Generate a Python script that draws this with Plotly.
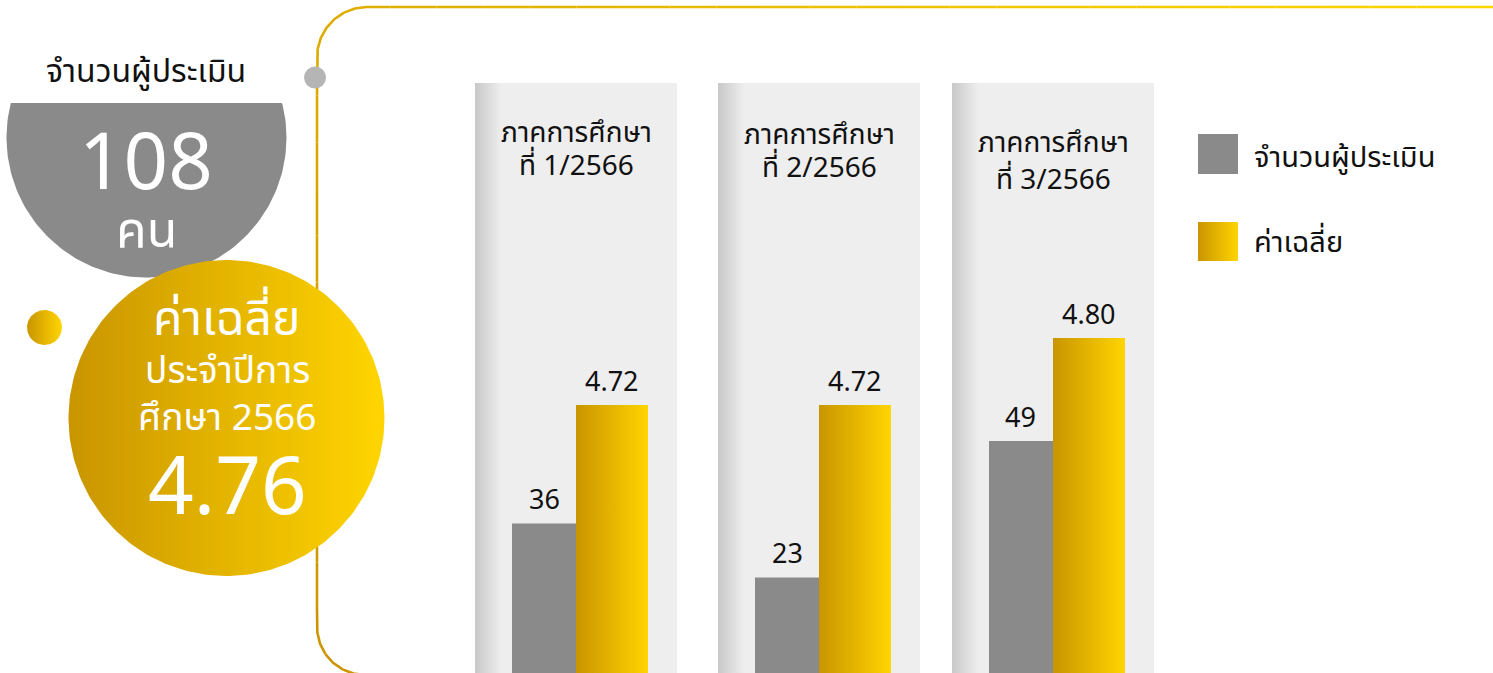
import numpy as np
import plotly.graph_objects as go

W, H = 1493, 673

# ---------------- data ----------------
semesters = ["ภาคการศึกษา<br>ที่ 1/2566", "ภาคการศึกษา<br>ที่ 2/2566", "ภาคการศึกษา<br>ที่ 3/2566"]
evaluators = [36, 23, 49]
averages = [4.72, 4.72, 4.80]
series_names = ["จำนวนผู้ประเมิน", "ค่าเฉลี่ย"]
total_evaluators = 108
total_unit = "คน"
year_average = 4.76
year_average_label = ["ค่าเฉลี่ย", "ประจำปีการ", "ศึกษา 2566"]

# ---------------- style ----------------
FONT = "Noto Sans Thai, Noto Sans, DejaVu Sans, sans-serif"
GRAY = "#8A8A8A"
GOLD_SCALE = [[0, "#C99500"], [1, "#FFD500"]]
PANEL_SCALE = [[0, "#C8C8C8"], [0.13, "#EEEEEE"], [1, "#EEEEEE"]]

panel_left = [475, 718, 952]
panel_w = 202
panel_top = 83
gray_axis_max = [142, 142, 124.6]
gold_axis_range = [4.40, 5.1045]
px_unit = 68.0
x_range = [-69 / px_unit, (panel_w - 69) / px_unit]
gray_w = 64 / px_unit
gold_w = 72 / px_unit
title_line_y = [(133, 166), (135, 168), (143, 180)]

fig = go.Figure()


def add_poly(x, y, scale=None, color=None, xa="x", ya="y"):
    kw = dict(x=list(x), y=list(y), mode="lines", fill="toself", line=dict(width=0),
              hoverinfo="skip", showlegend=False, xaxis=xa, yaxis=ya)
    if scale is not None:
        kw["fillgradient"] = dict(type="horizontal", colorscale=scale)
        kw["fillcolor"] = scale[-1][1]
    else:
        kw["fillcolor"] = color
    fig.add_trace(go.Scatter(**kw))


def circle(cx, cy, r, ymin=None, n=240):
    t = np.linspace(0, 2 * np.pi, n)
    x = cx + r * np.cos(t)
    y = cy + r * np.sin(t)
    if ymin is not None:
        y = np.maximum(y, ymin)
    return x, y


def rect(x0, y0, x1, y1):
    return [x0, x1, x1, x0, x0], [y0, y0, y1, y1, y0]


# ---------------- decorations on a pixel canvas ----------------
# gold outline (gradient along its path)
pts = []
x0, ytop, ybot, R1, R2 = 317, 7, 675, 48, 50
for a in np.linspace(np.pi / 2, np.pi, 20):
    pts.append((x0 + R1 + R1 * np.cos(a), ybot - R1 + R1 * np.sin(a)))
for a in np.linspace(np.pi, 1.5 * np.pi, 20):
    pts.append((x0 + R2 + R2 * np.cos(a), ytop + R2 + R2 * np.sin(a)))
pts.append((W + 5, ytop))
pts = np.array(pts)
seg = np.hypot(np.diff(pts[:, 0]), np.diff(pts[:, 1]))
cum = np.concatenate([[0], np.cumsum(seg)])
L = cum[-1]
s = np.linspace(0, L, 160)
px = np.interp(s, cum, pts[:, 0])
py = np.interp(s, cum, pts[:, 1])
c0 = np.array([0xCC, 0x95, 0x00])
c1 = np.array([0xFF, 0xD8, 0x00])
step = 4
for i in range(0, len(s) - 1, step):
    j = min(i + step, len(s) - 1)
    f = s[i] / L
    c = (c0 + (c1 - c0) * f).astype(int)
    fig.add_trace(go.Scatter(x=px[i:j + 1], y=py[i:j + 1], mode="lines",
                             line=dict(color=f"rgb({c[0]},{c[1]},{c[2]})", width=2.6),
                             hoverinfo="skip", showlegend=False, xaxis="x", yaxis="y"))

# gray dot on the outline
gx, gy = circle(315, 77.5, 11)
add_poly(gx, gy, color="#B5B5B5")

# big gray circle (top cut flat)
gx, gy = circle(146.5, 137.5, 140, ymin=103)
add_poly(gx, gy, color=GRAY)

# gold circle
gx, gy = circle(226.5, 418, 158)
add_poly(gx, gy, scale=GOLD_SCALE)

# small gold dot
gx, gy = circle(44.5, 327.5, 17.5)
add_poly(gx, gy, scale=GOLD_SCALE)

# panel backgrounds
for pl in panel_left:
    rx, ry = rect(pl, panel_top, pl + panel_w, H + 2)
    add_poly(rx, ry, scale=PANEL_SCALE)

# legend swatches
rx, ry = rect(1198, 134, 1238, 174)
add_poly(rx, ry, color=GRAY)
rx, ry = rect(1198, 222, 1238, 261)
add_poly(rx, ry, scale=GOLD_SCALE)

annotations = []


def txt(x, y, text, size, color="#111111", anchor="center", ref=("x", "y"), yanchor="middle", **kw):
    annotations.append(dict(x=x, y=y, xref=ref[0], yref=ref[1], text=text, showarrow=False,
                            xanchor=anchor, yanchor=yanchor,
                            font=dict(family=FONT, size=size, color=color), **kw))


txt(146, 72, series_names[0], 32)
txt(146, 165, str(total_evaluators), 78, color="white")
txt(146, 232, total_unit, 50, color="white")
txt(227, 320, year_average_label[0], 48, color="white")
txt(227, 372, year_average_label[1], 37, color="white")
txt(227, 419, year_average_label[2], 37, color="white")
txt(227, 489, f"{year_average:.2f}", 80, color="white")
txt(1252, 158, series_names[0], 29, anchor="left")
txt(1252, 243, series_names[1], 29, anchor="left")

# ---------------- bar panels ----------------
layout_axes = {}
for i in range(3):
    k = i + 2
    kg = i + 5
    xa, ya, yg = f"x{k}", f"y{k}", f"y{kg}"
    dom_x = [panel_left[i] / W, (panel_left[i] + panel_w) / W]
    dom_y = [0, (H - panel_top) / H]
    layout_axes[f"xaxis{k}"] = dict(domain=dom_x, range=x_range, visible=False, anchor=ya, fixedrange=True)
    layout_axes[f"yaxis{k}"] = dict(domain=dom_y, range=[0, gray_axis_max[i]], visible=False, anchor=xa, fixedrange=True)
    layout_axes[f"yaxis{kg}"] = dict(domain=dom_y, range=gold_axis_range, visible=False, anchor=xa,
                                     overlaying=ya, fixedrange=True)

    fig.add_trace(go.Bar(x=[0], y=[evaluators[i]], width=gray_w, marker=dict(color=GRAY, line=dict(width=0)),
                         name=series_names[0], showlegend=False, xaxis=xa, yaxis=ya,
                         hovertemplate=f"{series_names[0]}: %{{y}}<extra></extra>"))
    # gold bar (gradient) built from the average value
    bx = [1 - gold_w / 2, 1 + gold_w / 2, 1 + gold_w / 2, 1 - gold_w / 2, 1 - gold_w / 2]
    by = [0, 0, averages[i], averages[i], 0]
    add_poly(bx, by, scale=GOLD_SCALE, xa=xa, ya=yg)

    txt(0, evaluators[i], str(evaluators[i]), 27, ref=(xa, ya), yanchor="bottom")
    txt(1, averages[i], f"{averages[i]:.2f}", 27, ref=(xa, yg), yanchor="bottom")

    cx = (panel_left[i] + panel_w / 2)
    for line, ly in zip(semesters[i].split("<br>"), title_line_y[i]):
        txt(cx, ly, line, 28)

fig.update_layout(
    width=W, height=H, margin=dict(l=0, r=0, t=0, b=0),
    paper_bgcolor="white", plot_bgcolor="rgba(0,0,0,0)",
    showlegend=False, barmode="overlay",
    xaxis=dict(domain=[0, 1], range=[0, W], visible=False, fixedrange=True),
    yaxis=dict(domain=[0, 1], range=[H, 0], visible=False, fixedrange=True),
    annotations=annotations,
    **layout_axes,
)

fig.write_html("out.html", config={"displayModeBar": False},
               post_script="document.body.style.margin='0';document.body.style.overflow='hidden';")
